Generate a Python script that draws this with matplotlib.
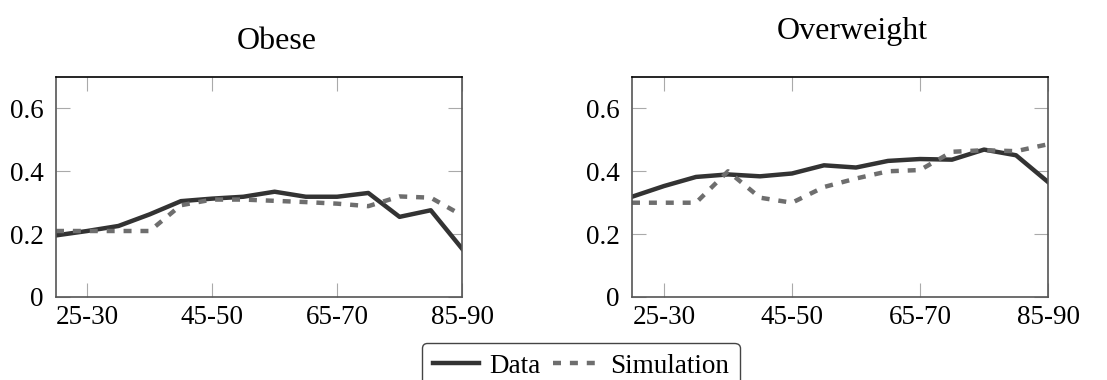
import matplotlib
matplotlib.use("Agg")
import matplotlib.pyplot as plt
import numpy as np

plt.rcParams["font.family"] = ["Liberation Serif", "DejaVu Serif"]

age_groups = ["20-25", "25-30", "30-35", "35-40", "40-45", "45-50", "50-55",
              "55-60", "60-65", "65-70", "70-75", "75-80", "80-85", "85-90"]

obese_data = [0.196, 0.21, 0.226, 0.263, 0.305, 0.313, 0.319,
              0.335, 0.319, 0.319, 0.331, 0.255, 0.276, 0.154]
obese_sim = [0.21, 0.21, 0.21, 0.21, 0.292, 0.31, 0.31,
             0.306, 0.302, 0.297, 0.289, 0.32, 0.316, 0.26]

overweight_data = [0.319, 0.353, 0.382, 0.39, 0.384, 0.393, 0.419,
                   0.412, 0.433, 0.439, 0.437, 0.469, 0.451, 0.366]
overweight_sim = [0.30, 0.30, 0.30, 0.40, 0.316, 0.30, 0.35,
                  0.377, 0.40, 0.404, 0.462, 0.467, 0.464, 0.486]

W, H = 1107, 380
fig = plt.figure(figsize=(W / 100, H / 100), dpi=100)

def px_axes(x0, x1, y0, y1):
    return fig.add_axes([x0 / W, 1 - y1 / H, (x1 - x0) / W, (y1 - y0) / H])

ax1 = px_axes(56, 462, 77, 297)
ax2 = px_axes(632, 1048, 77, 297)

x = np.arange(len(age_groups))
tick_idx = [1, 5, 9, 13]

for ax, d, s in [(ax1, obese_data, obese_sim), (ax2, overweight_data, overweight_sim)]:
    ax.plot(x, d, color="#333333", lw=3.2, solid_joinstyle="round", label="Data")
    ax.plot(x, s, color="#6e6e6e", lw=3.2, linestyle=(0, (1.8, 2)), label="Simulation")
    ax.set_xlim(0, len(age_groups) - 1)
    ax.set_ylim(0, 0.7)
    ax.set_xticks(tick_idx)
    ax.set_xticklabels([age_groups[i] for i in tick_idx])
    ax.set_yticks([0, 0.2, 0.4, 0.6])
    ax.set_yticklabels(["0", "0.2", "0.4", "0.6"])
    ax.tick_params(axis="both", direction="in", length=10, width=0.8, color="#aaaaaa",
                   labelsize=19.5, top=True, right=True)
    ax.tick_params(axis="x", pad=6)
    ax.tick_params(axis="y", pad=9)
    ax.spines["top"].set_color("black")
    ax.spines["right"].set_color("#555555")
    ax.spines["left"].set_color("#555555")
    ax.spines["bottom"].set_color("#555555")
    for sp in ax.spines.values():
        sp.set_linewidth(1.2)

fig.text(277 / W, 1 - 49 / H, "Obese", ha="center", va="baseline", fontsize=23)
fig.text(852 / W, 1 - 39 / H, "Overweight", ha="center", va="baseline", fontsize=23)

handles, labels = ax1.get_legend_handles_labels()
leg = fig.legend(handles, labels, loc="upper left", bbox_to_anchor=(422 / W, 1 - 343 / H),
                 ncol=2, fontsize=19.5, frameon=True, fancybox=True, borderaxespad=0,
                 handlelength=1.7, handletextpad=0.4, columnspacing=0.45,
                 borderpad=0.4)
leg.get_frame().set_edgecolor("#444444")
leg.get_frame().set_linewidth(1.0)
leg.get_frame().set_alpha(1)

fig.savefig("out.png", dpi=100)
